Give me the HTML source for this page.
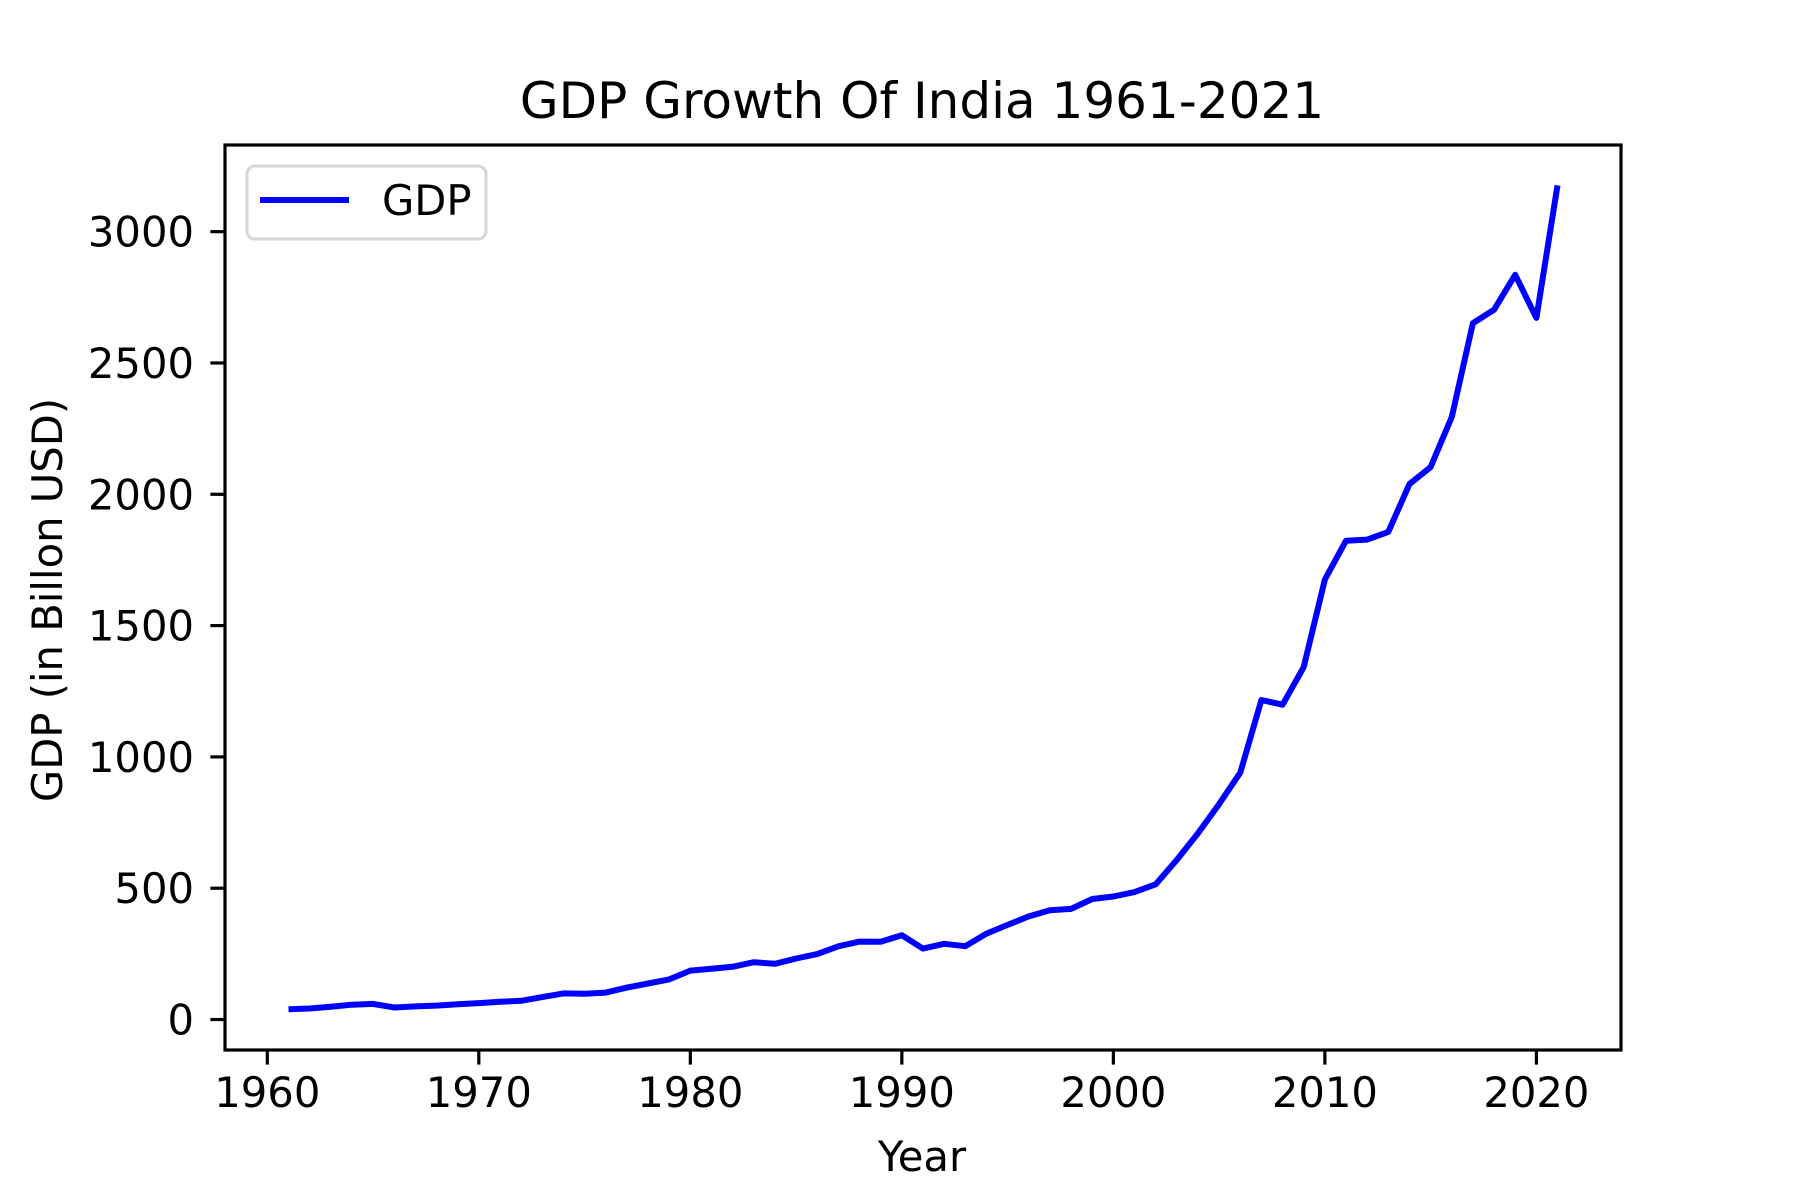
<!DOCTYPE html>
<html><head><meta charset="utf-8"><style>
html,body{margin:0;padding:0;background:#fff;}
svg{display:block;font-family:"DejaVu Sans","Liberation Sans",sans-serif;}
</style></head><body>
<svg id="chart" width="1800" height="1200" viewBox="0 0 1800 1200" xmlns="http://www.w3.org/2000/svg">
<rect width="1800" height="1200" fill="#fff"/>
<text x="922" y="118" font-size="50" text-anchor="middle">GDP Growth Of India 1961-2021</text>
<g id="xticks"></g>
<g id="yticks"></g>
<path id="line" fill="none" stroke="#0000ff" stroke-width="6" stroke-linejoin="round"/>
<rect x="225" y="145" width="1396" height="905" fill="none" stroke="#000" stroke-width="3.2"/>
<text x="922" y="1171" font-size="41.7" text-anchor="middle">Year</text>
<text transform="translate(62,600) rotate(-90)" font-size="41.7" text-anchor="middle">GDP (in Billon USD)</text>
<g>
<rect x="247" y="166" width="239" height="73" rx="8" fill="#fff" fill-opacity="0.8" stroke="#d6d6d6" stroke-width="3"/>
<line x1="260" y1="200" x2="349" y2="200" stroke="#0000ff" stroke-width="6"/>
<text x="382" y="215" font-size="41.7">GDP</text>
</g>
</svg>
<script>
const years = [1961,1962,1963,1964,1965,1966,1967,1968,1969,1970,1971,1972,1973,1974,1975,1976,1977,1978,1979,1980,1981,1982,1983,1984,1985,1986,1987,1988,1989,1990,1991,1992,1993,1994,1995,1996,1997,1998,1999,2000,2001,2002,2003,2004,2005,2006,2007,2008,2009,2010,2011,2012,2013,2014,2015,2016,2017,2018,2019,2020,2021];
const gdp = [39.2,42.2,48.4,56.5,59.6,45.9,50.1,53.1,58.4,62.4,67.4,71.5,85.5,99.5,98.5,102.7,121.5,137.3,153.0,186.3,193.5,200.7,218.3,212.2,232.5,249.0,279.0,296.6,296.0,321.0,270.1,288.2,279.3,327.3,360.3,392.9,415.9,421.4,458.8,468.4,485.4,514.9,607.7,709.1,820.4,940.3,1216.7,1198.9,1341.9,1675.6,1823.1,1827.6,1856.7,2039.1,2103.6,2294.8,2651.5,2702.9,2835.6,2671.6,3176.3];
const xTicks = [1960,1970,1980,1990,2000,2010,2020];
const yTicks = [0,500,1000,1500,2000,2500,3000];
const L=225,R=1621,T=145,B=1050;
const xmin=1958,xmax=2024,ymin=-116,ymax=3330;
const sx=v=>L+(v-xmin)/(xmax-xmin)*(R-L);
const sy=v=>B-(v-ymin)/(ymax-ymin)*(B-T);
const NS="http://www.w3.org/2000/svg";
let d="";
years.forEach((y,i)=>{d+=(i?"L":"M")+sx(y).toFixed(1)+","+sy(gdp[i]).toFixed(1);});
document.getElementById('line').setAttribute('d',d);
const xg=document.getElementById('xticks');
xTicks.forEach(t=>{
  const l=document.createElementNS(NS,'line');
  l.setAttribute('x1',sx(t));l.setAttribute('x2',sx(t));l.setAttribute('y1',B);l.setAttribute('y2',B+14.6);
  l.setAttribute('stroke','#000');l.setAttribute('stroke-width','3.2');
  
  
  xg.appendChild(l);
  const tx=document.createElementNS(NS,'text');
  tx.setAttribute('x',sx(t));tx.setAttribute('y',B+57);tx.setAttribute('font-size','41.7');tx.setAttribute('text-anchor','middle');
  tx.textContent=t;
  
  
  xg.appendChild(tx);
});
const yg=document.getElementById('yticks');
yTicks.forEach(t=>{
  const l=document.createElementNS(NS,'line');
  l.setAttribute('x1',L-14.6);l.setAttribute('x2',L);l.setAttribute('y1',sy(t));l.setAttribute('y2',sy(t));
  l.setAttribute('stroke','#000');l.setAttribute('stroke-width','3.2');
  
  
  yg.appendChild(l);
  const tx=document.createElementNS(NS,'text');
  tx.setAttribute('x',L-31);tx.setAttribute('y',sy(t)+15);tx.setAttribute('font-size','41.7');tx.setAttribute('text-anchor','end');
  tx.textContent=t;
  
  
  yg.appendChild(tx);
});
</script>
</body></html>
